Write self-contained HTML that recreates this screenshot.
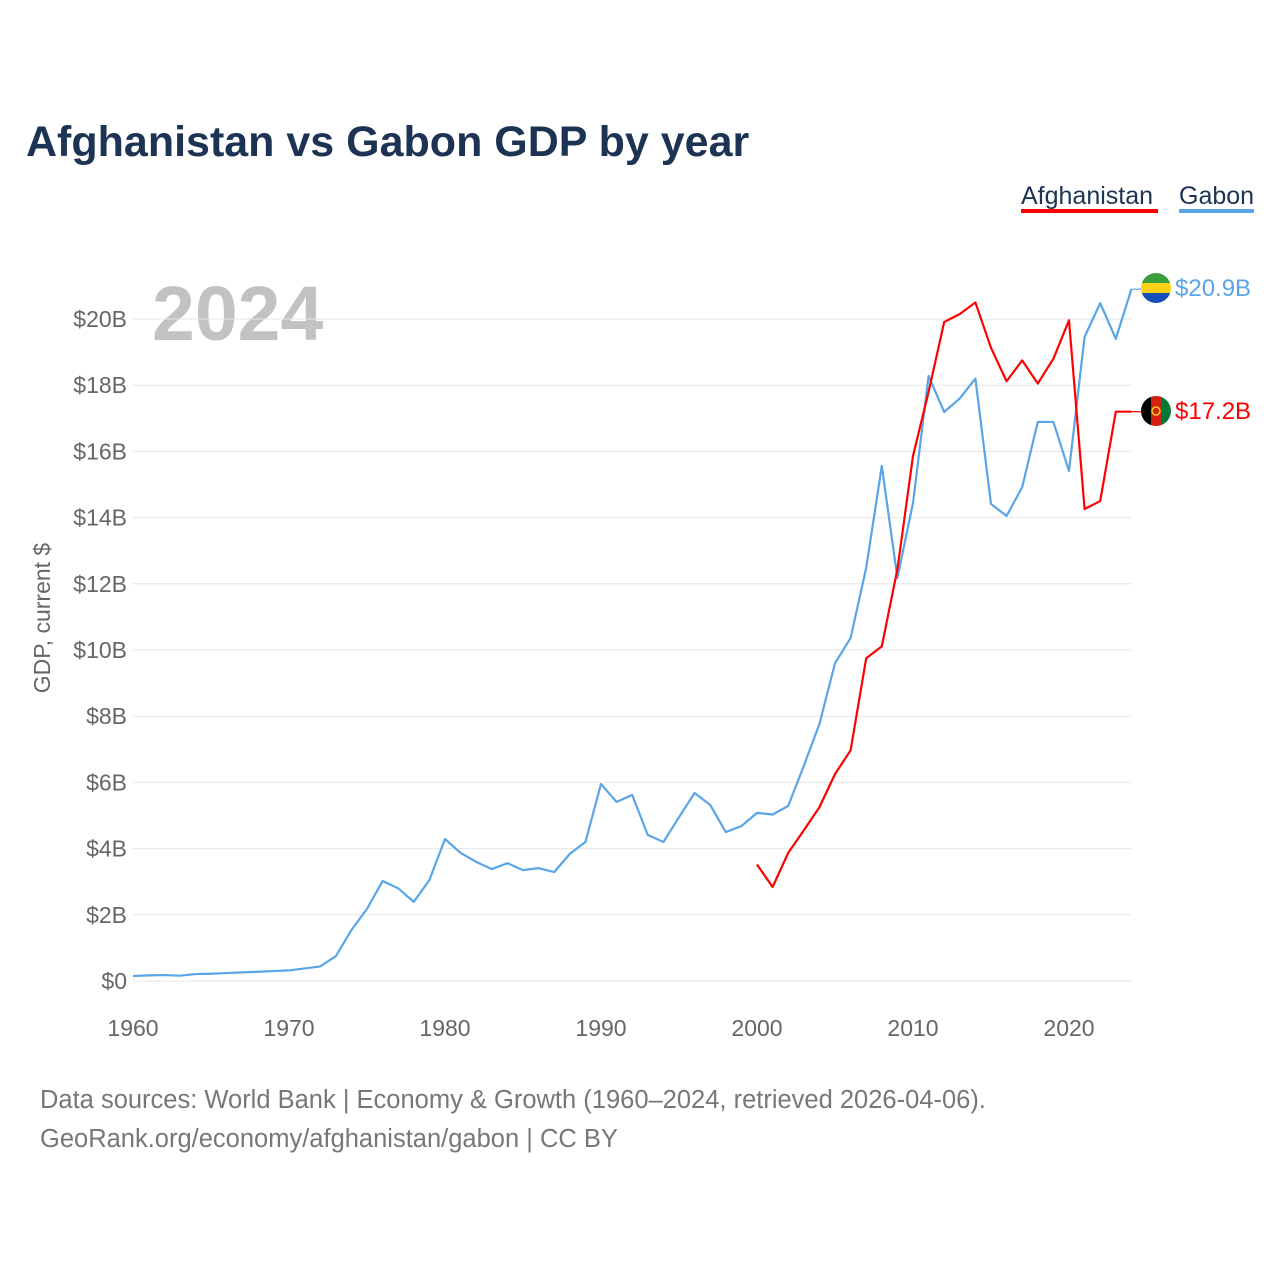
<!DOCTYPE html>
<html><head><meta charset="utf-8"><style>
body{margin:0;background:#fff;font-family:"Liberation Sans",sans-serif;}
svg text{font-family:"Liberation Sans",sans-serif;}
</style></head><body>
<svg width="1280" height="1280" viewBox="0 0 1280 1280">
<text x="26" y="156" font-size="43" font-weight="bold" fill="#1c3354">Afghanistan vs Gabon GDP by year</text>
<g>
<text x="1021" y="204" font-size="25" fill="#1c3354">Afghanistan</text>
<rect x="1021" y="209" width="137" height="4" fill="#ff0000"/>
<text x="1179" y="204" font-size="25" fill="#1c3354">Gabon</text>
<rect x="1179" y="209" width="75" height="4" fill="#5aa5e8"/>
</g>
<text x="152" y="340" font-size="77" font-weight="bold" fill="#c2c2c2">2024</text>
<g id="grid"></g><g id="yt"></g><g id="xt"></g>
<text transform="translate(50,618) rotate(-90)" text-anchor="middle" font-size="23" fill="#666">GDP, current $</text>
<g id="lines"></g>
<g>
<clipPath id="cg"><circle cx="1156" cy="288" r="15"/></clipPath>
<g clip-path="url(#cg)"><rect x="1140" y="272" width="32" height="11" fill="#3a9e3a"/><rect x="1140" y="283" width="32" height="10" fill="#fcd116"/><rect x="1140" y="293" width="32" height="11" fill="#1550b8"/></g>
</g>
<g>
<clipPath id="ca"><circle cx="1156" cy="411" r="15"/></clipPath>
<g clip-path="url(#ca)"><rect x="1140" y="395" width="11" height="32" fill="#000"/><rect x="1151" y="395" width="10" height="32" fill="#d32011"/><rect x="1161" y="395" width="11" height="32" fill="#007a36"/></g>
<circle cx="1156" cy="411" r="4" fill="none" stroke="#f5d020" stroke-width="1.5"/>
</g>
<text x="1175" y="296" font-size="24" fill="#5aa5e8">$20.9B</text>
<text x="1175" y="419" font-size="24" fill="#ff0000">$17.2B</text>
<text x="40" y="1108" font-size="25.5" fill="#777">Data sources: World Bank | Economy &amp; Growth (1960–2024, retrieved 2026-04-06).</text>
<text x="40" y="1147" font-size="25.5" fill="#777">GeoRank.org/economy/afghanistan/gabon | CC BY</text>
</svg>
<script>
const gabonYears=[];for(let y=1960;y<=2024;y++)gabonYears.push(y);
const gabonValues=[0.15,0.17,0.18,0.16,0.21,0.22,0.24,0.26,0.28,0.30,0.32,0.38,0.44,0.75,1.54,2.18,3.02,2.8,2.39,3.05,4.29,3.87,3.6,3.38,3.56,3.35,3.41,3.29,3.84,4.2,5.95,5.41,5.62,4.41,4.2,4.95,5.68,5.32,4.5,4.68,5.08,5.03,5.29,6.5,7.76,9.6,10.36,12.48,15.56,12.18,14.44,18.28,17.19,17.6,18.2,14.41,14.05,14.92,16.89,16.89,15.41,19.46,20.48,19.4,20.9];
const afgYears=[];for(let y=2000;y<=2024;y++)afgYears.push(y);
const afgValues=[3.52,2.84,3.87,4.55,5.25,6.25,6.97,9.75,10.11,12.44,15.86,17.8,19.91,20.15,20.5,19.13,18.12,18.75,18.05,18.8,19.96,14.26,14.5,17.2,17.2];
const yTicks=[0,2,4,6,8,10,12,14,16,18,20];
const xTicks=[1960,1970,1980,1990,2000,2010,2020];
const NS="http://www.w3.org/2000/svg";
const X=y=>133+(y-1960)*15.6;
const Y=v=>981-v*33.1;
function mk(t,a,p){const e=document.createElementNS(NS,t);for(const k in a)e.setAttribute(k,a[k]);document.getElementById(p).appendChild(e);return e;}
yTicks.forEach(v=>{
 const l=mk('line',{x1:133,x2:1131,y1:Y(v),y2:Y(v),stroke:'#e6e6e6','stroke-width':1},'grid');
 
 
 const t=mk('text',{x:127,y:Y(v)+8,'text-anchor':'end','font-size':23,fill:'#666'},'yt');
 t.textContent='$'+v+(v?'B':'');
 
 
});
xTicks.forEach(v=>{
 const t=mk('text',{x:X(v),y:1036,'text-anchor':'middle','font-size':23,fill:'#666'},'xt');
 t.textContent=v;
 
 
});
function line(ys,vs,c,n){
 const pts=ys.map((y,i)=>X(y)+','+Y(vs[i])).join(' ');
 const p=mk('polyline',{points:pts,fill:'none',stroke:c,'stroke-width':2.2,'stroke-linejoin':'round'},'lines');
 
 
 const lv=vs[vs.length-1];
 const e=mk('line',{x1:X(ys[ys.length-1]),x2:1141,y1:Y(lv),y2:Y(lv),stroke:c,'stroke-width':1.2},'lines');
 
 
}
line(gabonYears,gabonValues,'#5aa5e8','gabon-line');
line(afgYears,afgValues,'#ff0000','afghanistan-line');
</script>
</body></html>
